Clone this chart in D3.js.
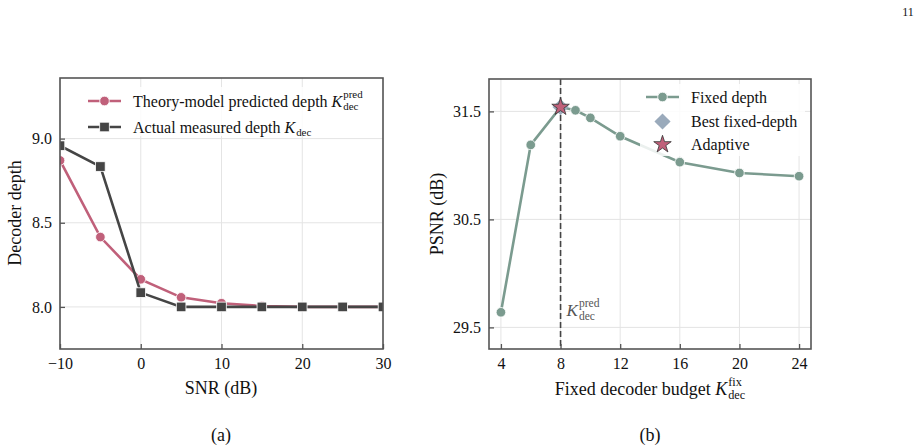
<!DOCTYPE html>
<html><head><meta charset="utf-8">
<script src="https://cdn.jsdelivr.net/npm/d3@7"></script>
<style>body{margin:0;background:#fff}svg{display:block}svg text{font-family:"Liberation Serif","Times New Roman",serif !important;fill:#111}</style>
</head><body><svg id="c" width="921" height="448" font-family="Liberation Serif"></svg>
<script>
// ---- data ----
const snr = [-10, -5, 0, 5, 10, 15, 20, 25, 30];
const predDepth = [8.87, 8.415, 8.164, 8.057, 8.022, 8.005, 8.0, 8.0, 8.0];
const measDepth = [8.958, 8.834, 8.085, 8.0, 8.0, 8.0, 8.0, 8.0, 8.0];
const snrTicks = [-10, 0, 10, 20, 30];
const depthTicks = [8.0, 8.5, 9.0];

const budgets = [4, 6, 8, 9, 10, 12, 16, 20, 24];
const psnr = [29.64, 31.19, 31.54, 31.51, 31.44, 31.27, 31.03, 30.93, 30.90];
const budgetTicks = [4, 8, 12, 16, 20, 24];
const psnrTicks = [29.5, 30.5, 31.5];
const bestFixed = [{k: 8, v: 31.54}];
const adaptive = [{k: 8, v: 31.54}];
const predK = [8];

const C = {red: "#c0607a", dark: "#454545", green: "#7b9b8f", diamond: "#9aaabb", spine: "#555", grid: "#e4e4e4"};
const FONT = '"Liberation Serif","Times New Roman",serif';
const svg = d3.select("#c");

function txt(g, x, y, size, s) {
  return g.append("text").attr("x", x).attr("y", y).style("font-family", FONT).style("font-size", size + "px").text(s);
}

function mathK(g, x, y, size, sup, sub, color) {
  const k = txt(g, x, y, size, "K").style("font-style", "italic").style("fill", color || "#111");
  const kw = k.node().getComputedTextLength();
  let w = kw;
  if (sup) {
    const s = txt(g, x + kw + 1, y - size * 0.52, size * 0.68, sup).style("fill", color || "#111");
    w = Math.max(w, kw + 1 + s.node().getComputedTextLength());
  }
  if (sub) {
    const s = txt(g, x + kw + 1, y + size * 0.24, size * 0.68, sub).style("fill", color || "#111");
    w = Math.max(w, kw + 1 + s.node().getComputedTextLength());
  }
  return w;
}

function frame(g, x, y, X0, X1, Y0, Y1, xt, yt) {
  g.append("g").selectAll("line").data(xt).join("line")
    .attr("x1", d => x(d)).attr("x2", d => x(d)).attr("y1", Y0).attr("y2", Y1)
    .attr("stroke", C.grid).attr("stroke-width", 1);
  g.append("g").selectAll("line").data(yt).join("line")
    .attr("y1", d => y(d)).attr("y2", d => y(d)).attr("x1", X0).attr("x2", X1)
    .attr("stroke", C.grid).attr("stroke-width", 1);
}
function axes(g, x, y, X0, X1, Y0, Y1, xt, yt, fmtX, fmtY) {
  g.append("rect").attr("x", X0).attr("y", Y0).attr("width", X1 - X0).attr("height", Y1 - Y0)
    .attr("fill", "none").attr("stroke", C.spine).attr("stroke-width", 1.6);
  const ax = g.append("g").attr("transform", `translate(0,${Y1})`)
    .call(d3.axisBottom(x).tickValues(xt).tickFormat(fmtX).tickSizeInner(-5).tickSizeOuter(0).tickPadding(9));
  const ay = g.append("g").attr("transform", `translate(${X0},0)`)
    .call(d3.axisLeft(y).tickValues(yt).tickFormat(fmtY).tickSizeInner(-5).tickSizeOuter(0).tickPadding(8));
  [ax, ay].forEach(a => {
    a.attr("font-family", null).attr("font-size", null);
    a.select(".domain").remove();
    a.selectAll("line").attr("stroke", C.spine).attr("stroke-width", 1.3);
    a.selectAll("text").style("font-size", "16px").style("font-family", FONT).style("fill", "#111");
  });
}

// ================= Panel (a) =================
{
  const X0 = 60, X1 = 383, Y0 = 78, Y1 = 349;
  const x = d3.scaleLinear().domain([-10, 30]).range([X0, X1]);
  const y = d3.scaleLinear().domain([7.75, 9.36]).range([Y1, Y0]);
  const g = svg.append("g");
  frame(g, x, y, X0, X1, Y0, Y1, snrTicks, depthTicks);
  g.append("clipPath").attr("id", "ca").append("rect").attr("x", X0).attr("y", Y0).attr("width", X1 - X0).attr("height", Y1 - Y0);
  const line = d3.line().x(d => x(d[0])).y(d => y(d[1]));
  const pts1 = snr.map((s, i) => [s, predDepth[i]]);
  const pts2 = snr.map((s, i) => [s, measDepth[i]]);
  const plot = g.append("g").attr("clip-path", "url(#ca)");
  plot.append("path").datum(pts1).attr("d", line).attr("fill", "none").attr("stroke", C.red).attr("stroke-width", 2.6);
  plot.selectAll(".c1").data(pts1).join("circle").attr("cx", d => x(d[0])).attr("cy", d => y(d[1])).attr("r", 4.8)
    .attr("fill", C.red).attr("stroke", "#fff").attr("stroke-width", 0.8);
  plot.append("path").datum(pts2).attr("d", line).attr("fill", "none").attr("stroke", C.dark).attr("stroke-width", 2.6);
  plot.selectAll(".s2").data(pts2).join("rect").attr("x", d => x(d[0]) - 4.8).attr("y", d => y(d[1]) - 4.8)
    .attr("width", 9.6).attr("height", 9.6).attr("fill", C.dark).attr("stroke", "#fff").attr("stroke-width", 0.8);
  axes(g, x, y, X0, X1, Y0, Y1, snrTicks, depthTicks, d => d < 0 ? "\u2212" + Math.abs(d) : d, d3.format(".1f"));

  // legend
  const lg = g.append("g");
  lg.append("rect").attr("x", 82).attr("y", 87).attr("width", 292).attr("height", 49).attr("fill", "#fff").attr("opacity", 0.85);
  const rows = [{c: C.red, m: "circle", t: "Theory-model predicted depth", sup: "pred", sub: "dec", y: 101},
                {c: C.dark, m: "square", t: "Actual measured depth", sup: null, sub: "dec", y: 127}];
  rows.forEach(r => {
    lg.append("line").attr("x1", 88).attr("x2", 121).attr("y1", r.y).attr("y2", r.y).attr("stroke", r.c).attr("stroke-width", 2.6);
    if (r.m === "circle") lg.append("circle").attr("cx", 104.5).attr("cy", r.y).attr("r", 4.8).attr("fill", r.c).attr("stroke", "#fff").attr("stroke-width", 0.8);
    else lg.append("rect").attr("x", 99.7).attr("y", r.y - 4.8).attr("width", 9.6).attr("height", 9.6).attr("fill", r.c).attr("stroke", "#fff").attr("stroke-width", 0.8);
    const t = txt(lg, 133, r.y + 5.5, 16, r.t);
    const w = t.node().getComputedTextLength();
    mathK(lg, 133 + w + 4, r.y + 5.5, 16, r.sup, r.sub);
  });

  txt(g, 15, 219, 18, "Decoder depth").attr("transform", "rotate(-90, 15, 213)").attr("text-anchor", "middle");
  txt(g, 221, 394, 18, "SNR (dB)").attr("text-anchor", "middle");
  txt(g, 221, 441, 18, "(a)").attr("text-anchor", "middle");
}

// ================= Panel (b) =================
{
  const X0 = 489, X1 = 811, Y0 = 79, Y1 = 349;
  const x = d3.scaleLinear().domain([3.2, 24.8]).range([X0, X1]);
  const y = d3.scaleLinear().domain([29.3, 31.8]).range([Y1, Y0]);
  const g = svg.append("g");
  frame(g, x, y, X0, X1, Y0, Y1, budgetTicks, psnrTicks);
  g.selectAll(".vl").data(predK).join("line").attr("x1", d => x(d)).attr("x2", d => x(d)).attr("y1", Y0).attr("y2", Y1)
    .attr("stroke", "#444").attr("stroke-width", 1.6).attr("stroke-dasharray", "6,3");
  const pts = budgets.map((b, i) => [b, psnr[i]]);
  const line = d3.line().x(d => x(d[0])).y(d => y(d[1]));
  g.append("path").datum(pts).attr("d", line).attr("fill", "none").attr("stroke", C.green).attr("stroke-width", 2.6);
  g.selectAll(".cg").data(pts).join("circle").attr("cx", d => x(d[0])).attr("cy", d => y(d[1])).attr("r", 4.8)
    .attr("fill", C.green).attr("stroke", "#fff").attr("stroke-width", 0.8);
  const diamond = d3.symbol().type(d3.symbolSquare).size(130);
  g.selectAll(".bd").data(bestFixed).join("path").attr("d", diamond)
    .attr("transform", d => `translate(${x(d.k)},${y(d.v)}) rotate(45)`).attr("fill", C.diamond).attr("opacity", 0.95);
  const star = d3.symbol().type(d3.symbolStar).size(95);
  g.selectAll(".st").data(adaptive).join("path").attr("d", star)
    .attr("transform", d => `translate(${x(d.k)},${y(d.v)})`).attr("fill", C.red).attr("stroke", "#333").attr("stroke-width", 0.8);
  axes(g, x, y, X0, X1, Y0, Y1, budgetTicks, psnrTicks, d3.format("d"), d3.format(".1f"));

  mathK(g, x(predK[0]) + 6, 316, 17, "pred", "dec", "#555");

  // legend
  const lg = g.append("g");
  lg.append("rect").attr("x", 640).attr("y", 84).attr("width", 165).attr("height", 72).attr("fill", "#fff").attr("opacity", 0.85);
  lg.append("line").attr("x1", 646).attr("x2", 679).attr("y1", 97).attr("y2", 97).attr("stroke", C.green).attr("stroke-width", 2.6);
  lg.append("circle").attr("cx", 662.5).attr("cy", 97).attr("r", 4.8).attr("fill", C.green).attr("stroke", "#fff").attr("stroke-width", 0.8);
  lg.append("path").attr("d", diamond).attr("transform", "translate(662.5,121.5) rotate(45)").attr("fill", C.diamond);
  lg.append("path").attr("d", star).attr("transform", "translate(662.5,144.5)").attr("fill", C.red).attr("stroke", "#333").attr("stroke-width", 0.8);
  [["Fixed depth", 97], ["Best fixed-depth", 121.5], ["Adaptive", 144.5]].forEach(([t, yy]) =>
    txt(lg, 691, yy + 5.5, 16, t));

  txt(g, 437, 220, 18, "PSNR (dB)").attr("transform", "rotate(-90, 437, 214)").attr("text-anchor", "middle");
  const lab = g.append("g");
  const t = txt(lab, 0, 395, 18, "Fixed decoder budget");
  const w1 = t.node().getComputedTextLength() + 4.5;
  const w2 = mathK(lab, w1, 395, 18, "fix", "dec");
  lab.attr("transform", `translate(${650 - (w1 + w2) / 2},0)`);
  txt(g, 650, 441, 18, "(b)").attr("text-anchor", "middle");
}

txt(svg, 908, 16, 12, "11").attr("text-anchor", "middle");
</script></body></html>
